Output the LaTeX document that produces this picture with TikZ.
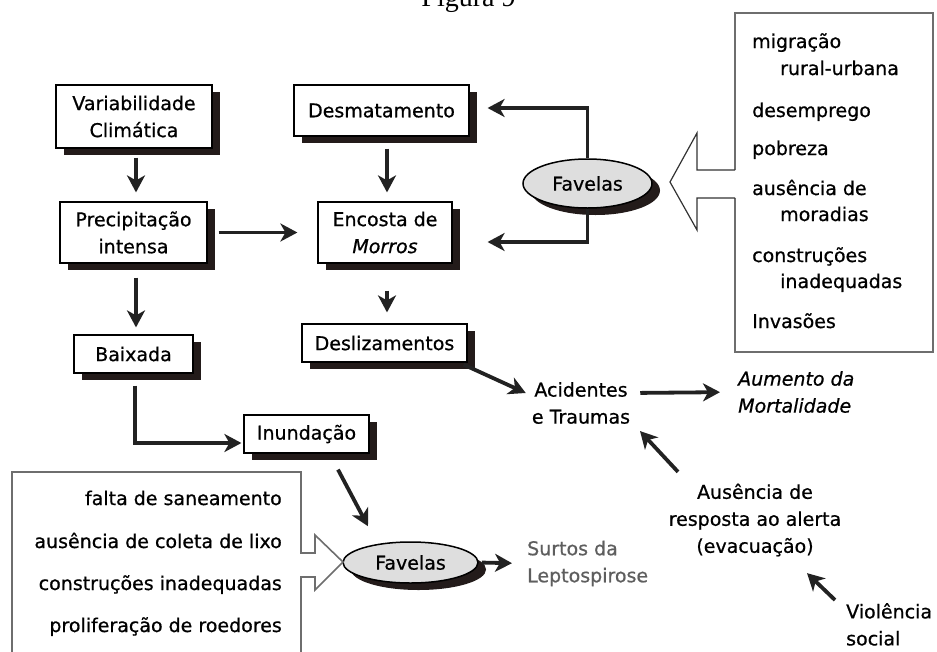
\documentclass[tikz,border=0pt]{standalone}
\usepackage{fontspec}
\setmainfont[FakeBold=0.7]{DejaVu Sans}
\newfontfamily\seriffont{Liberation Serif}
\usetikzlibrary{arrows.meta,shapes.geometric,shadows}
\definecolor{shadowc}{HTML}{231B1A}
\definecolor{arrc}{HTML}{222222}
\definecolor{favfill}{HTML}{DEDEDE}
\definecolor{framec}{HTML}{6E6E6E}
\definecolor{graytext}{HTML}{5E5E5E}
\tikzset{
  txt/.style={font=\fontsize{19}{27}\selectfont, inner sep=0pt, text=black},
  boxnode/.style={txt, draw=black, line width=1.2pt, fill=white, align=center,
    general shadow={shadow xshift=8pt, shadow yshift=-7pt, fill=shadowc}},
  favnode/.style={txt, ellipse, draw=black, line width=1.5pt, fill=favfill,
    general shadow={shadow xshift=8pt, shadow yshift=-7pt, fill=shadowc}},
  arr/.style={line width=3.8pt, draw=arrc, -{Stealth[length=17pt,width=18pt,inset=5pt]}},
  itemtxt/.style={txt, anchor=base west},
  litemtxt/.style={txt, anchor=base east},
}
\begin{document}
\begin{tikzpicture}[x=1pt,y=-1pt]
\useasboundingbox (0,0) rectangle (937,651);
\fill[white] (0,0) rectangle (937,651);

% title (cut by the top edge, as in the reference)
\node[font=\seriffont\fontsize{28}{28}\selectfont, anchor=base, inner sep=0pt] (title) at (468.5,6) {Figura 9};

% boxes
\node[boxnode, minimum width=156pt, minimum height=63pt] (var) at (134,116.5) {Variabilidade\\Climática};
\node[boxnode, minimum width=175pt, minimum height=51pt] (desm) at (381.5,110.5) {Desmatamento};
\node[boxnode, minimum width=147pt, minimum height=61pt] (prec) at (133.5,232.5) {Precipitação\\intensa};
\node[boxnode, minimum width=134pt, minimum height=61pt] (enc) at (385,232.5) {Encosta de\\\textit{Morros}};
\node[boxnode, minimum width=119pt, minimum height=38pt] (baix) at (133.5,354) {Baixada};
\node[boxnode, minimum width=165pt, minimum height=38pt] (desl) at (384.5,343) {Deslizamentos};
\node[boxnode, minimum width=125pt, minimum height=38pt] (inun) at (306.5,434) {Inundação};

% favelas ellipses
\node[favnode, minimum width=129pt, minimum height=49pt] (fav1) at (587.5,183.5) {Favelas};
\node[favnode, minimum width=135pt, minimum height=41pt] (fav2) at (410.5,562.5) {Favelas};

% free texts
\node[txt, align=center] (acid) at (581,403) {Acidentes\\e Traumas};
\node[txt, align=left, anchor=west, font=\fontsize{19}{27}\selectfont\itshape] (aum) at (738,392) {Aumento da\\Mortalidade};
\node[txt, align=center] (aus) at (755,520) {Ausência de\\resposta ao alerta\\(evacuação)};
\node[txt, align=left, anchor=north west] (viol) at (846,603) {Violência\\social};
\node[txt, align=left, anchor=west, text=graytext] (surt) at (527,563.5) {Surtos da\\Leptospirose};

% right container with hollow arrow
\draw[framec, line width=2.5pt] (735,170) -- (735,13) -- (933,13) -- (933,352) -- (735,352) -- (735,198);
\draw[black!80, line width=1.2pt, line join=miter] (735,170) -- (697,170) -- (697,133) -- (670,182) -- (697,230) -- (697,198) -- (735,198);
\node[itemtxt] (r1) at (752,48) {migração};
\node[itemtxt] (r2) at (780,75) {rural-urbana};
\node[itemtxt] (r3) at (752,117) {desemprego};
\node[itemtxt] (r4) at (752,155) {pobreza};
\node[itemtxt] (r5) at (752,195) {ausência de};
\node[itemtxt] (r6) at (780,221) {moradias};
\node[itemtxt] (r7) at (752,262) {construções};
\node[itemtxt] (r8) at (780,288) {inadequadas};
\node[itemtxt] (r9) at (752,328) {Invasões};

% left container with hollow arrow
\draw[framec, line width=1.6pt, line join=miter] (12,660) -- (12,472) -- (301,472) -- (301,553) -- (315,553) -- (315,535) -- (343,562) -- (315,590) -- (315,577) -- (301,577) -- (301,660);
\node[litemtxt] (l1) at (282,505) {falta de saneamento};
\node[litemtxt] (l2) at (282,548) {ausência de coleta de lixo};
\node[litemtxt] (l3) at (282,590) {construções inadequadas};
\node[litemtxt] (l4) at (282,632) {proliferação de roedores};

% arrows
\draw[arr, shorten <=9pt, shorten >=9pt] ([xshift=2pt]var.south) -- ([xshift=2.5pt]prec.north);
\draw[arr, shorten <=12pt, shorten >=9pt] ([xshift=5.5pt]desm.south) -- ([xshift=2pt]enc.north);
\draw[arr, shorten <=11pt, shorten >=20pt] (prec.east) -- (enc.west);
\draw[arr, shorten <=14pt, shorten >=7pt] ([xshift=2.5pt]prec.south) -- ([xshift=2.5pt]baix.north);
\draw[arr, shorten <=27pt, shorten >=11pt] ([xshift=2pt]enc.south) -- ([xshift=2.5pt]desl.north);
\draw[arr] ([xshift=1.5pt,yshift=-12pt]baix.south) |- ([xshift=-2pt,yshift=-9pt]inun.west);
\draw[arr] (fav1.north) |- ([xshift=18pt,yshift=2.5pt]desm.east);
\draw[arr] (fav1.south) |- ([xshift=35pt,yshift=-9.5pt]enc.east);
\draw[arr] ([xshift=-4pt,yshift=-2pt]desl.south east) -- ([xshift=-6pt,yshift=10pt]acid.west);
\draw[arr, shorten <=10pt, shorten >=18pt] ([yshift=10pt]acid.east) -- (aum.west);
\draw[arr] ([xshift=-77pt,yshift=11.5pt]aus.north) -- ([xshift=59pt,yshift=-7pt]acid.south);
\draw[arr] ([xshift=-11pt,yshift=3pt]viol.north west) -- ([xshift=52pt,yshift=-16.5pt]aus.south);
\draw[arr] ([xshift=31.5pt,yshift=-16pt]inun.south) -- ([xshift=-42.5pt,yshift=15pt]fav2.north);
\draw[arr, shorten <=3pt, shorten >=15pt] (fav2.east) -- (surt.west);
\end{tikzpicture}
\end{document}
